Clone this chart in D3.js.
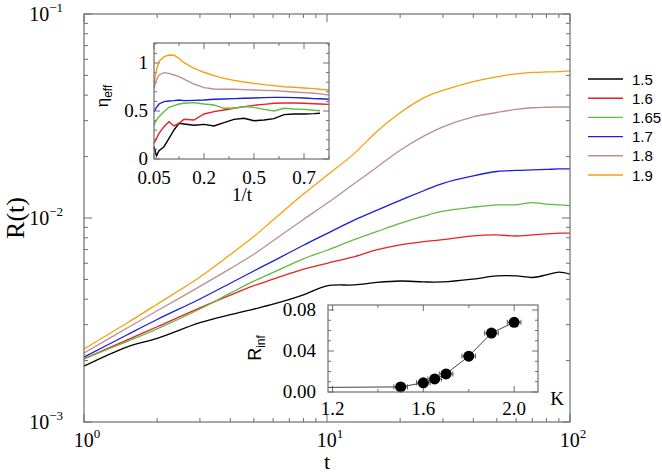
<!DOCTYPE html>
<html><head><meta charset="utf-8">
<script src="https://cdn.jsdelivr.net/npm/d3@7"></script>
<style>body{margin:0;background:#fff} svg{display:block}</style>
</head><body><svg id="c" width="662" height="475"></svg>
<script>
// ---------- main plot data: R(t) ----------
const tValues = [1,1.5,2,3,4,5,6,8,10,13,16,20,25,30,40,50,60,70,80,90,100];
const seriesNames = ["1.5","1.6","1.65","1.7","1.8","1.9"];
const seriesColors = ["#000000","#e8231f","#5fba46","#1c1ce0","#bc8f8f","#f5a010"];
const R_15  = [0.00188,0.00233,0.00257,0.00307,0.00336,0.00358,0.00378,0.00420,0.00465,0.00470,0.00483,0.00491,0.00486,0.00486,0.00502,0.00520,0.00520,0.00511,0.00526,0.00543,0.00531];
const R_16  = [0.00204,0.00252,0.00293,0.00363,0.00419,0.00466,0.00501,0.00562,0.00600,0.00647,0.00697,0.00738,0.00766,0.00783,0.00818,0.00826,0.00816,0.00826,0.00835,0.00843,0.00843];
const R_165 = [0.00204,0.00248,0.00286,0.00358,0.00428,0.00490,0.00541,0.00631,0.00695,0.00785,0.00857,0.00940,0.0102,0.0108,0.0113,0.0116,0.0116,0.0119,0.0117,0.0116,0.0115];
const R_17  = [0.00208,0.00267,0.00318,0.00401,0.00479,0.00550,0.00615,0.00735,0.00839,0.00979,0.0109,0.0122,0.0136,0.0148,0.0161,0.0169,0.0171,0.0172,0.0173,0.0174,0.0174];
const R_18  = [0.00218,0.00288,0.00351,0.00462,0.00565,0.00664,0.00773,0.00984,0.0118,0.0148,0.0177,0.0215,0.0252,0.0280,0.0313,0.0329,0.0341,0.0347,0.0349,0.0350,0.0350];
const R_19  = [0.00228,0.00305,0.00378,0.00514,0.00662,0.00811,0.00977,0.0131,0.0162,0.0208,0.0265,0.0328,0.0388,0.0422,0.0466,0.0492,0.0509,0.0517,0.0520,0.0522,0.0526];
const mainSeries = [R_15,R_16,R_165,R_17,R_18,R_19];
const xTickExps = [0,1,2];
const yTickExps = [-3,-2,-1];

// ---------- inset 1: eta_eff vs 1/t ----------
const invTPos = [0,0.05,0.1,0.2,0.3,0.4,0.5,0.6,0.8,1.0,1.2,1.4,1.6,1.8,2.0,2.2,2.4,2.6,2.8,3.0,3.2,3.32,3.5];
const invTTickLabels = ["0.05","0.2","0.5","0.7"];
const etaTickLabels = ["0","0.5","1"];
const eta_15  = [0.128,0.031,0.087,0.128,0.215,0.302,0.372,0.365,0.351,0.361,0.344,0.379,0.413,0.424,0.399,0.406,0.420,0.462,0.469,0.469,0.472,0.476,null];
const eta_16  = [0.163,0.215,0.267,0.337,0.389,0.344,0.372,0.413,0.406,0.469,0.493,0.510,0.528,0.545,0.559,0.569,0.580,0.583,0.583,0.580,0.576,0.573,0.569];
const eta_165 = [0.354,0.406,0.441,0.493,0.538,0.556,0.573,0.580,0.587,0.573,0.563,0.528,0.528,0.545,0.538,0.517,0.500,0.528,0.521,0.517,0.507,0.503,null];
const eta_17  = [0.493,0.538,0.573,0.597,0.604,0.608,0.615,0.608,0.611,0.615,0.622,0.625,0.629,0.632,0.635,0.639,0.642,0.642,0.639,0.635,0.629,0.627,0.622];
const eta_18  = [0.736,0.823,0.875,0.899,0.892,0.875,0.858,0.833,0.781,0.743,0.729,0.726,0.726,0.722,0.719,0.715,0.712,0.705,0.698,0.691,0.684,0.678,0.667];
const eta_19  = [0.788,0.927,1.014,1.066,1.083,1.080,1.049,1.003,0.944,0.903,0.868,0.840,0.819,0.802,0.788,0.774,0.764,0.753,0.747,0.740,0.733,0.726,0.719];
const etaSeries = [eta_15,eta_16,eta_165,eta_17,eta_18,eta_19];

// ---------- inset 2: R_inf vs K ----------
const kValues    = [1.5,1.6,1.65,1.7,1.8,1.9,2.0];
const rInfValues = [0.0050,0.0090,0.0127,0.0176,0.0350,0.0575,0.0680];
const kErr = 0.03;
const kLine    = [1.18,1.5,1.6,1.65,1.7,1.8,1.9,2.0];
const rInfLine = [0.0045,0.0050,0.0090,0.0127,0.0176,0.0350,0.0575,0.0680];
const kTicks = [1.2,1.6,2.0];
const rInfTicks = [0,0.04,0.08];

const svg = d3.select("#c");
const serif = "'Liberation Serif','Times New Roman',serif";
const sans = "'Liberation Sans',Arial,Helvetica,sans-serif";
const frameCol = "#6e6e6e";

// ===== main axes =====
const M = {l:84, r:570, t:14, b:422};
const x = d3.scaleLog().domain([1,100]).range([M.l,M.r]);
const y = d3.scaleLog().domain([1e-3,1e-1]).range([M.b,M.t]);

const g = svg.append("g");
const xMinor = [], yMinor = [];
for (let e=0;e<2;e++) for (let k=2;k<=9;k++) xMinor.push(k*Math.pow(10,e));
for (let e=-3;e<-1;e++) for (let k=2;k<=9;k++) yMinor.push(k*Math.pow(10,e));
const tickG = g.append("g").attr("stroke",frameCol).attr("stroke-width",1);
function vt(xv, len){
  tickG.append("line").attr("x1",xv).attr("x2",xv).attr("y1",M.b).attr("y2",M.b-len);
  tickG.append("line").attr("x1",xv).attr("x2",xv).attr("y1",M.t).attr("y2",M.t+len);
}
function ht(yv, len){
  tickG.append("line").attr("y1",yv).attr("y2",yv).attr("x1",M.l).attr("x2",M.l+len);
  tickG.append("line").attr("y1",yv).attr("y2",yv).attr("x1",M.r).attr("x2",M.r-len);
}
xMinor.forEach(v=>vt(x(v),4));
xTickExps.forEach(e=>vt(x(Math.pow(10,e)),8));
yMinor.forEach(v=>ht(y(v),4));
yTickExps.forEach(e=>ht(y(Math.pow(10,e)),8));

const line = d3.line().x((d,i)=>x(tValues[i])).y(d=>y(d)).curve(d3.curveCatmullRom.alpha(0.5));
mainSeries.forEach((s,i)=>{
  g.append("path").datum(s).attr("d",line).attr("fill","none")
   .attr("stroke",seriesColors[i]).attr("stroke-width",1.3);
});
g.append("rect").attr("x",M.l).attr("y",M.t).attr("width",M.r-M.l).attr("height",M.b-M.t)
 .attr("fill","none").attr("stroke",frameCol).attr("stroke-width",1.2);

xTickExps.forEach(e=>{
  const t = g.append("text").attr("x",x(Math.pow(10,e))+3).attr("y",M.b+25)
    .attr("text-anchor","middle").attr("font-family",serif).attr("font-size",20);
  t.append("tspan").text("10");
  t.append("tspan").attr("dy",-9).attr("font-size",13).text(String(e));
});
yTickExps.forEach(e=>{
  const t = g.append("text").attr("x",M.l-21).attr("y",y(Math.pow(10,e))+7)
    .attr("text-anchor","end").attr("font-family",serif).attr("font-size",20);
  t.append("tspan").text("10");
  t.append("tspan").attr("dy",-9).attr("font-size",13).text("\u2212"+String(-e));
});
g.append("text").attr("x",(M.l+M.r)/2).attr("y",469).attr("text-anchor","middle")
 .attr("font-family",serif).attr("font-size",22).text("t");
g.append("text").attr("transform","translate(24,218) rotate(-90)").attr("text-anchor","middle")
 .attr("font-family",serif).attr("font-size",26).text("R(t)");

// legend
const leg = svg.append("g");
seriesNames.forEach((n,i)=>{
  const yy = 79 + i*19.2;
  leg.append("line").attr("x1",588).attr("x2",623).attr("y1",yy).attr("y2",yy)
    .attr("stroke",seriesColors[i]).attr("stroke-width",1.4);
  leg.append("text").attr("x",632).attr("y",yy+5.5).attr("font-family",sans)
    .attr("font-size",15).text(n);
});

// ===== inset 1 =====
const I1 = {l:154, r:329, t:43, b:159};
const xi = d3.scaleLinear().domain([0,3.5]).range([I1.l,I1.r]);
const yi = d3.scaleLinear().domain([0,1.208]).range([I1.b,I1.t]);
const g1 = svg.append("g");
g1.append("rect").attr("x",I1.l).attr("y",I1.t).attr("width",I1.r-I1.l).attr("height",I1.b-I1.t).attr("fill","#fff");
const t1 = g1.append("g").attr("stroke",frameCol);
d3.range(0,3.51,0.5).forEach((v,i)=>{
  const len = (i%2===0)?6:3;
  t1.append("line").attr("x1",xi(v)).attr("x2",xi(v)).attr("y1",I1.b).attr("y2",I1.b-len);
  t1.append("line").attr("x1",xi(v)).attr("x2",xi(v)).attr("y1",I1.t).attr("y2",I1.t+len);
});
d3.range(0,1.21,0.1).forEach((v,i)=>{
  const len = (i%5===0)?6:3;
  t1.append("line").attr("y1",yi(v)).attr("y2",yi(v)).attr("x1",I1.l).attr("x2",I1.l+len);
  t1.append("line").attr("y1",yi(v)).attr("y2",yi(v)).attr("x1",I1.r).attr("x2",I1.r-len);
});
const line1 = d3.line().defined(d=>d!==null).x((d,i)=>xi(invTPos[i])).y(d=>yi(d));
etaSeries.forEach((s,i)=>{
  g1.append("path").datum(s).attr("d",line1).attr("fill","none")
    .attr("stroke",seriesColors[i]).attr("stroke-width",1.4);
});
g1.append("rect").attr("x",I1.l).attr("y",I1.t).attr("width",I1.r-I1.l).attr("height",I1.b-I1.t)
  .attr("fill","none").attr("stroke",frameCol).attr("stroke-width",1.2);
invTTickLabels.forEach((lab,i)=>{
  g1.append("text").attr("x",xi(i)).attr("y",I1.b+25).attr("text-anchor","middle")
    .attr("font-family",serif).attr("font-size",19).text(lab);
});
etaTickLabels.forEach((lab,i)=>{
  g1.append("text").attr("x",I1.l-6).attr("y",yi(i*0.5)+6).attr("text-anchor","end")
    .attr("font-family",serif).attr("font-size",19).text(lab);
});
g1.append("text").attr("x",242).attr("y",201).attr("text-anchor","middle")
  .attr("font-family",serif).attr("font-size",19).text("1/t");
const eLab = g1.append("text").attr("transform","translate(108,96) rotate(-90)").attr("text-anchor","middle")
  .attr("font-family",sans).attr("font-size",17);
eLab.append("tspan").text("\u03b7");
eLab.append("tspan").attr("dy",4).attr("font-size",12).text("eff");

// ===== inset 2 =====
const I2 = {l:328, r:538, t:305, b:392};
const xk = d3.scaleLinear().domain([1.18,2.105]).range([I2.l,I2.r]);
const yk = d3.scaleLinear().domain([0,0.0849]).range([I2.b,I2.t]);
const g2 = svg.append("g");
g2.append("rect").attr("x",I2.l).attr("y",I2.t).attr("width",I2.r-I2.l).attr("height",I2.b-I2.t).attr("fill","#fff");
const t2 = g2.append("g").attr("stroke",frameCol);
[1.2,1.4,1.6,1.8,2.0].forEach((v,i)=>{
  const len = (i%2===0)?6:3;
  t2.append("line").attr("x1",xk(v)).attr("x2",xk(v)).attr("y1",I2.b).attr("y2",I2.b-len);
  t2.append("line").attr("x1",xk(v)).attr("x2",xk(v)).attr("y1",I2.t).attr("y2",I2.t+len);
});
d3.range(0,0.0801,0.01).forEach((v,i)=>{
  const len = (i%4===0)?6:3;
  t2.append("line").attr("y1",yk(v)).attr("y2",yk(v)).attr("x1",I2.l).attr("x2",I2.l+len);
  t2.append("line").attr("y1",yk(v)).attr("y2",yk(v)).attr("x1",I2.r).attr("x2",I2.r-len);
});
const line2 = d3.line().x((d,i)=>xk(kLine[i])).y(d=>yk(d));
g2.append("path").datum(rInfLine).attr("d",line2).attr("fill","none").attr("stroke","#444").attr("stroke-width",1);
kValues.forEach((k,i)=>{
  const yy = yk(rInfValues[i]);
  g2.append("line").attr("x1",xk(k-kErr)).attr("x2",xk(k+kErr)).attr("y1",yy).attr("y2",yy).attr("stroke","#555");
  [k-kErr,k+kErr].forEach(kk=>g2.append("line").attr("x1",xk(kk)).attr("x2",xk(kk)).attr("y1",yy-2.5).attr("y2",yy+2.5).attr("stroke","#555"));
  g2.append("circle").attr("cx",xk(k)).attr("cy",yy).attr("r",5.5).attr("fill","#000");
});
g2.append("rect").attr("x",I2.l).attr("y",I2.t).attr("width",I2.r-I2.l).attr("height",I2.b-I2.t)
  .attr("fill","none").attr("stroke",frameCol).attr("stroke-width",1.2);
kTicks.forEach(v=>{
  g2.append("text").attr("x",xk(v)).attr("y",I2.b+23).attr("text-anchor","middle")
    .attr("font-family",serif).attr("font-size",19).text(v.toFixed(1));
});
rInfTicks.forEach(v=>{
  g2.append("text").attr("x",I2.l-12).attr("y",yk(v)+6).attr("text-anchor","end")
    .attr("font-family",serif).attr("font-size",19).text(v.toFixed(2));
});
g2.append("text").attr("x",557).attr("y",405).attr("text-anchor","middle")
  .attr("font-family",serif).attr("font-size",19).text("K");
const rLab = g2.append("text").attr("transform","translate(261,348) rotate(-90)").attr("text-anchor","middle")
  .attr("font-family",sans).attr("font-size",18);
rLab.append("tspan").text("R");
rLab.append("tspan").attr("dy",4).attr("font-size",12).text("inf");
</script>
</body></html>
